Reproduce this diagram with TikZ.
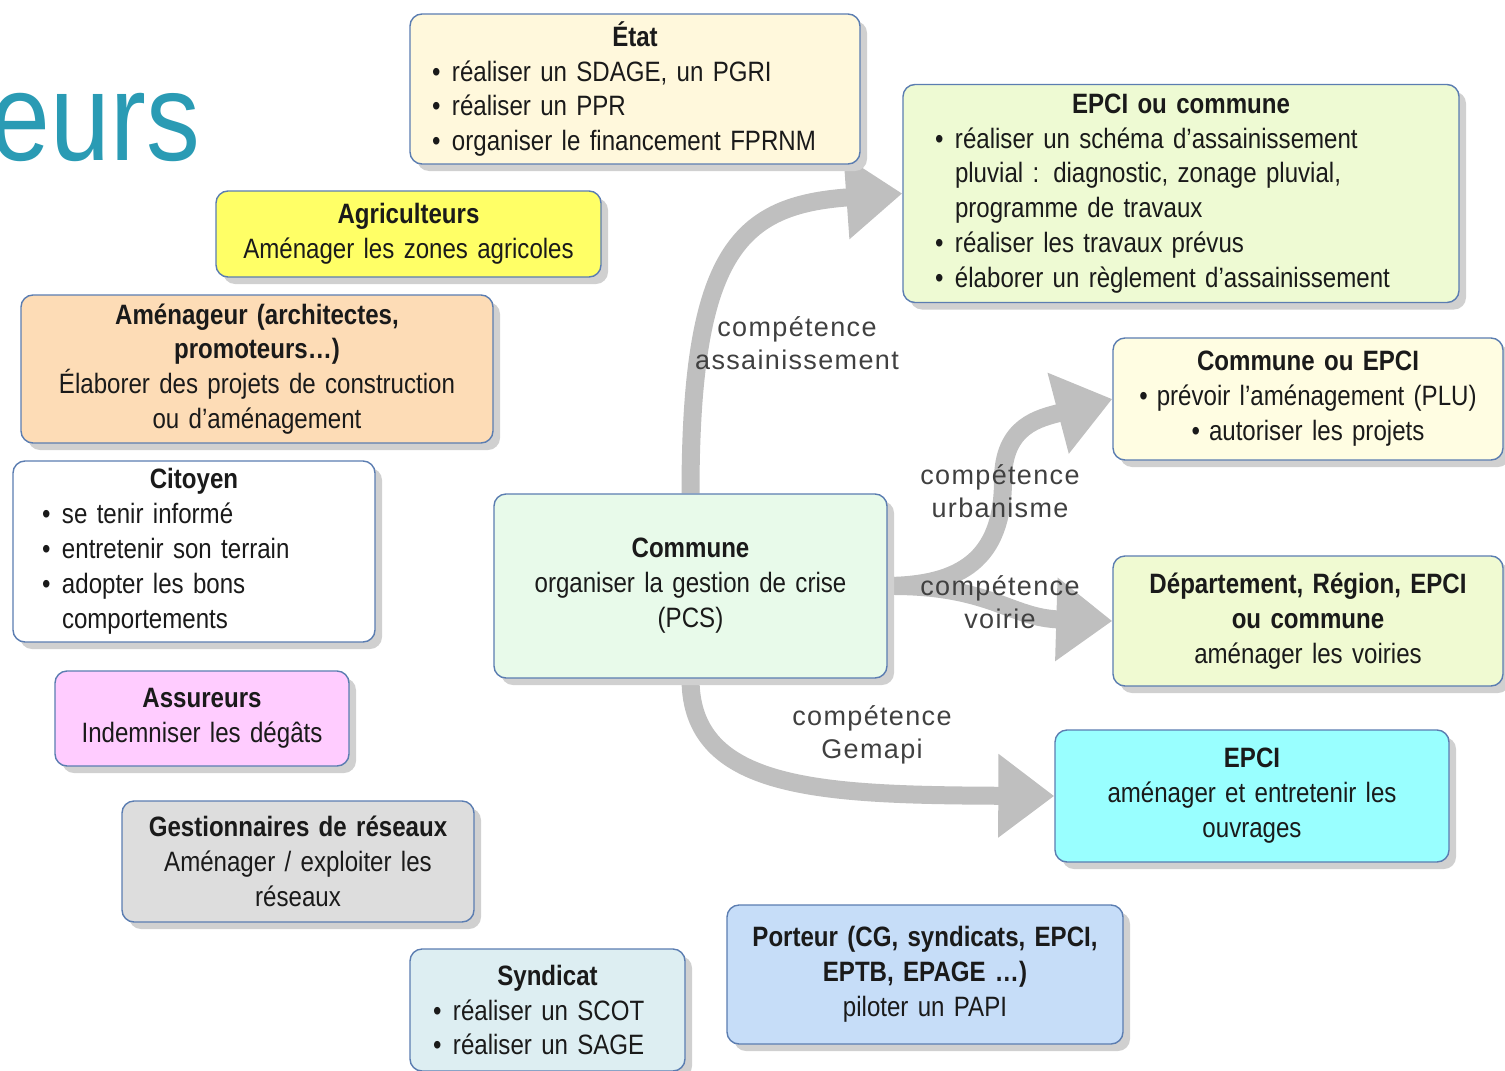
\documentclass[tikz,border=0pt]{standalone}
\usepackage{fontspec}
\setmainfont{Liberation Sans}[FakeStretch=0.86,WordSpace=0.85]
\newfontfamily\labfont{Liberation Sans}[LetterSpace=5]
\newfontfamily\ttlfont{Liberation Sans}[FakeStretch=0.86]
\usetikzlibrary{arrows.meta,shadows}
\definecolor{bord}{HTML}{5B7DB1}
\definecolor{txt}{HTML}{1A1A1A}
\definecolor{shd}{HTML}{D0D0D0}
\definecolor{arrg}{HTML}{BFBFBF}
\definecolor{labc}{HTML}{404040}
\definecolor{teal}{HTML}{2A9BB4}
\definecolor{cEtat}{HTML}{FFF8DC}
\definecolor{cAgri}{HTML}{FFFF66}
\definecolor{cAmen}{HTML}{FDDCB6}
\definecolor{cAss}{HTML}{FFCCFF}
\definecolor{cGest}{HTML}{DDDDDD}
\definecolor{cSynd}{HTML}{DDEEF2}
\definecolor{cPort}{HTML}{C6DDF8}
\definecolor{cComm}{HTML}{E8FAEA}
\definecolor{cEpciA}{HTML}{EEFAD3}
\definecolor{cCepci}{HTML}{FFFDE2}
\definecolor{cDep}{HTML}{F0FAD2}
\definecolor{cEpciB}{HTML}{99FFFF}
\newcommand{\bul}{\makebox[20pt][l]{•}}
\newcommand{\ind}{\hspace*{20pt}}
\pgfdeclarelayer{bg}
\pgfsetlayers{bg,main}
\tikzset{
  box/.style={draw=bord, line width=1.4pt, rounded corners=12pt, inner ysep=0pt,
    text=txt, font=\fontsize{28}{34.9}\selectfont,
    drop shadow={shadow xshift=7pt, shadow yshift=-7pt, fill=shd, opacity=1}},
  cbox/.style={box, align=center, inner xsep=8pt},
  arr/.style={draw=arrg, line width=18pt, -{Triangle[length=56pt,width=80pt]}},
  lab/.style={font=\labfont\fontsize{27}{33}\selectfont, text=labc, align=center, inner sep=0pt}
}
\begin{document}
\begin{tikzpicture}[x=1pt,y=-1pt]
\useasboundingbox (0,0) rectangle (1505,1071);

\node[anchor=base east, inner sep=0pt, text=teal, font=\ttlfont\fontsize{125}{125}\selectfont] (ttl) at (200,160) {eurs};

\node[box, fill=cEtat, minimum width=450pt, minimum height=150pt, text width=406pt, inner xsep=22pt, align=left] (etat) at (635,89)
{\makebox[\hsize][c]{\bfseries État}\\
\bul réaliser un SDAGE, un PGRI\\
\bul réaliser un PPR\\
\bul organiser le financement FPRNM};

\node[cbox, fill=cAgri, minimum width=385pt, minimum height=86pt, text width=369pt] (agri) at (408.5,234)
{{\bfseries Agriculteurs}\\Aménager les zones agricoles};

\node[cbox, fill=cAmen, minimum width=472pt, minimum height=148pt, text width=456pt] (amen) at (257,369)
{{\bfseries Aménageur (architectes,}\\{\bfseries promoteurs…)}\\Élaborer des projets de construction\\ou d’aménagement};

\node[box, fill=white, minimum width=362pt, minimum height=181pt, text width=304pt, inner xsep=29pt, align=left] (cit) at (194,551.5)
{\makebox[\hsize][c]{\bfseries Citoyen}\\
\bul se tenir informé\\
\bul entretenir son terrain\\
\bul adopter les bons\\
\ind comportements};

\node[cbox, fill=cAss, minimum width=294pt, minimum height=95pt, text width=278pt] (ass) at (202,718.5)
{{\bfseries Assureurs}\\Indemniser les dégâts};

\node[cbox, fill=cGest, minimum width=352pt, minimum height=121pt, text width=336pt] (gest) at (298,861.5)
{{\bfseries Gestionnaires de réseaux}\\Aménager / exploiter les\\réseaux};

\node[box, fill=cSynd, minimum width=275pt, minimum height=122pt, text width=229pt, inner xsep=23pt, align=left] (synd) at (547.5,1010)
{\makebox[\hsize][c]{\bfseries Syndicat}\\
\bul réaliser un SCOT\\
\bul réaliser un SAGE};

\node[cbox, fill=cPort, minimum width=396pt, minimum height=139pt, text width=380pt] (port) at (925,974.5)
{{\bfseries Porteur (CG, syndicats, EPCI,}\\{\bfseries EPTB, EPAGE …)}\\piloter un PAPI};

\node[cbox, fill=cComm, minimum width=393pt, minimum height=184pt, text width=377pt] (comm) at (690.5,586)
{{\bfseries Commune}\\organiser la gestion de crise\\(PCS)};

\node[box, fill=cEpciA, minimum width=556pt, minimum height=218pt, text width=492pt, inner xsep=32pt, align=left] (epcia) at (1181,193.5)
{\makebox[\hsize][c]{\bfseries EPCI ou commune}\\
\bul réaliser un schéma d’assainissement\\
\ind pluvial : diagnostic, zonage pluvial,\\
\ind programme de travaux\\
\bul réaliser les travaux prévus\\
\bul élaborer un règlement d’assainissement};

\node[cbox, fill=cCepci, minimum width=390pt, minimum height=122pt, text width=374pt] (cepci) at (1308,399)
{{\bfseries Commune ou EPCI}\\•\hspace{9pt}prévoir l’aménagement (PLU)\\•\hspace{9pt}autoriser les projets};

\node[cbox, fill=cDep, minimum width=390pt, minimum height=130pt, text width=374pt] (dep) at (1308,621)
{{\bfseries Département, Région, EPCI}\\{\bfseries ou commune}\\aménager les voiries};

\node[cbox, fill=cEpciB, minimum width=394pt, minimum height=132pt, text width=378pt] (epcib) at (1252,796)
{{\bfseries EPCI}\\aménager et entretenir les\\ouvrages};

\begin{pgfonlayer}{bg}
\draw[arr] (comm.north) .. controls (690.5,250) and (740,205) .. (epcia.west);
\draw[arr] (comm.east) .. controls (960,585) and (1003,560) .. (1003,480)
   .. controls (1003,425) and (1040,418) .. (cepci.west);
\draw[arr] (comm.east) .. controls (990,585) and (1010,618) .. (dep.west);
\draw[arr] (comm.south) .. controls (690.5,790) and (820,795) .. (epcib.west);
\end{pgfonlayer}

\node[lab] (l1) at (797,343) {compétence\\assainissement};
\node[lab] (l2) at (1000,491) {compétence\\urbanisme};
\node[lab] (l3) at (1000,602) {compétence\\voirie};
\node[lab] (l4) at (872,735) {compétence\\Gemapi};
\end{tikzpicture}
\end{document}
